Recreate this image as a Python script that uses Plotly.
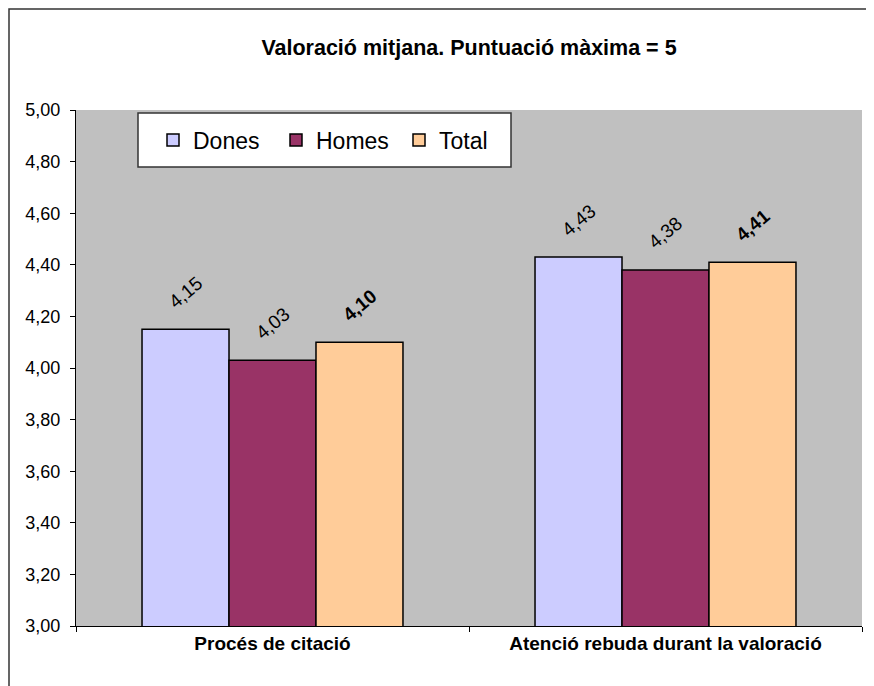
import plotly.graph_objects as go

categories = ["Procés de citació", "Atenció rebuda durant la valoració"]
dones = [4.15, 4.43]
homes = [4.03, 4.38]
total = [4.10, 4.41]
y_ticks = [3.0, 3.2, 3.4, 3.6, 3.8, 4.0, 4.2, 4.4, 4.6, 4.8, 5.0]

series = [
    ("Dones", dones, "#CCCCFF", False),
    ("Homes", homes, "#993366", False),
    ("Total", total, "#FFCC99", True),
]

BARGAP = 0.336
bar_w = (1 - BARGAP) / len(series)

fig = go.Figure()
for k, (name, vals, color, bold) in enumerate(series):
    fig.add_trace(
        go.Bar(
            x=categories,
            y=vals,
            name=name,
            marker=dict(color=color, line=dict(color="black", width=1.5)),
        )
    )
    # rotated value labels above the bars
    for i, v in enumerate(vals):
        txt = f"{v:.2f}".replace(".", ",")
        if bold:
            txt = f"<b>{txt}</b>"
        fig.add_annotation(
            x=i + (k - 1) * bar_w,
            y=v,
            xref="x",
            yref="y",
            text=txt,
            showarrow=False,
            textangle=-40,
            yshift=37,
            font=dict(family="Arial", size=19, color="black"),
        )

fig.update_layout(
    width=866,
    height=678,
    margin=dict(l=68, r=12, t=102, b=60),
    paper_bgcolor="white",
    plot_bgcolor="#C0C0C0",
    separators=",.",
    barmode="group",
    bargap=BARGAP,
    bargroupgap=0,
    font=dict(family="Arial", color="black"),
    title=dict(
        text="<b>Valoració mitjana. Puntuació màxima = 5</b>",
        x=0.5,
        xref="paper",
        y=1 - 39 / 678,
        yanchor="middle",
        font=dict(size=21.5, family="Arial"),
    ),
    legend=dict(
        orientation="h",
        x=(153 - 76) / 786,
        y=(626 - 140) / 516,
        xanchor="left",
        yanchor="middle",
        bgcolor="rgba(0,0,0,0)",
        borderwidth=0,
        entrywidth=78,
        font=dict(size=23, family="Arial"),
    ),
)

fig.update_yaxes(
    range=[3, 5],
    tickvals=y_ticks,
    tickformat=".2f",
    showgrid=False,
    showline=True,
    linecolor="black",
    linewidth=1,
    ticks="outside",
    ticklen=5,
    tickcolor="black",
    ticklabelstandoff=6,
    tickfont=dict(size=18, family="Arial"),
    zeroline=False,
)
fig.update_xaxes(
    showline=True,
    linecolor="black",
    linewidth=1,
    ticks="outside",
    tickson="boundaries",
    ticklen=5,
    tickcolor="black",
    tickfont=dict(size=19, family="Arial"),
    tickprefix="<b>",
    ticksuffix="</b>",
)

# legend frame
fig.add_shape(
    type="rect",
    xref="paper",
    yref="paper",
    x0=(138 - 76) / 786,
    x1=(511 - 76) / 786,
    y0=(626 - 167) / 516,
    y1=(626 - 113) / 516,
    line=dict(color="#333333", width=1.5),
    fillcolor="white",
    layer="below",
)

# outer chart border
fig.add_shape(
    type="rect",
    xref="paper",
    yref="paper",
    x0=(9 - 76) / 786,
    x1=(890 - 76) / 786,
    y0=-100 / 516,
    y1=(626 - 9) / 516,
    line=dict(color="#333333", width=1.5),
    fillcolor="rgba(0,0,0,0)",
    layer="below",
)

fig.write_html("out.html")
